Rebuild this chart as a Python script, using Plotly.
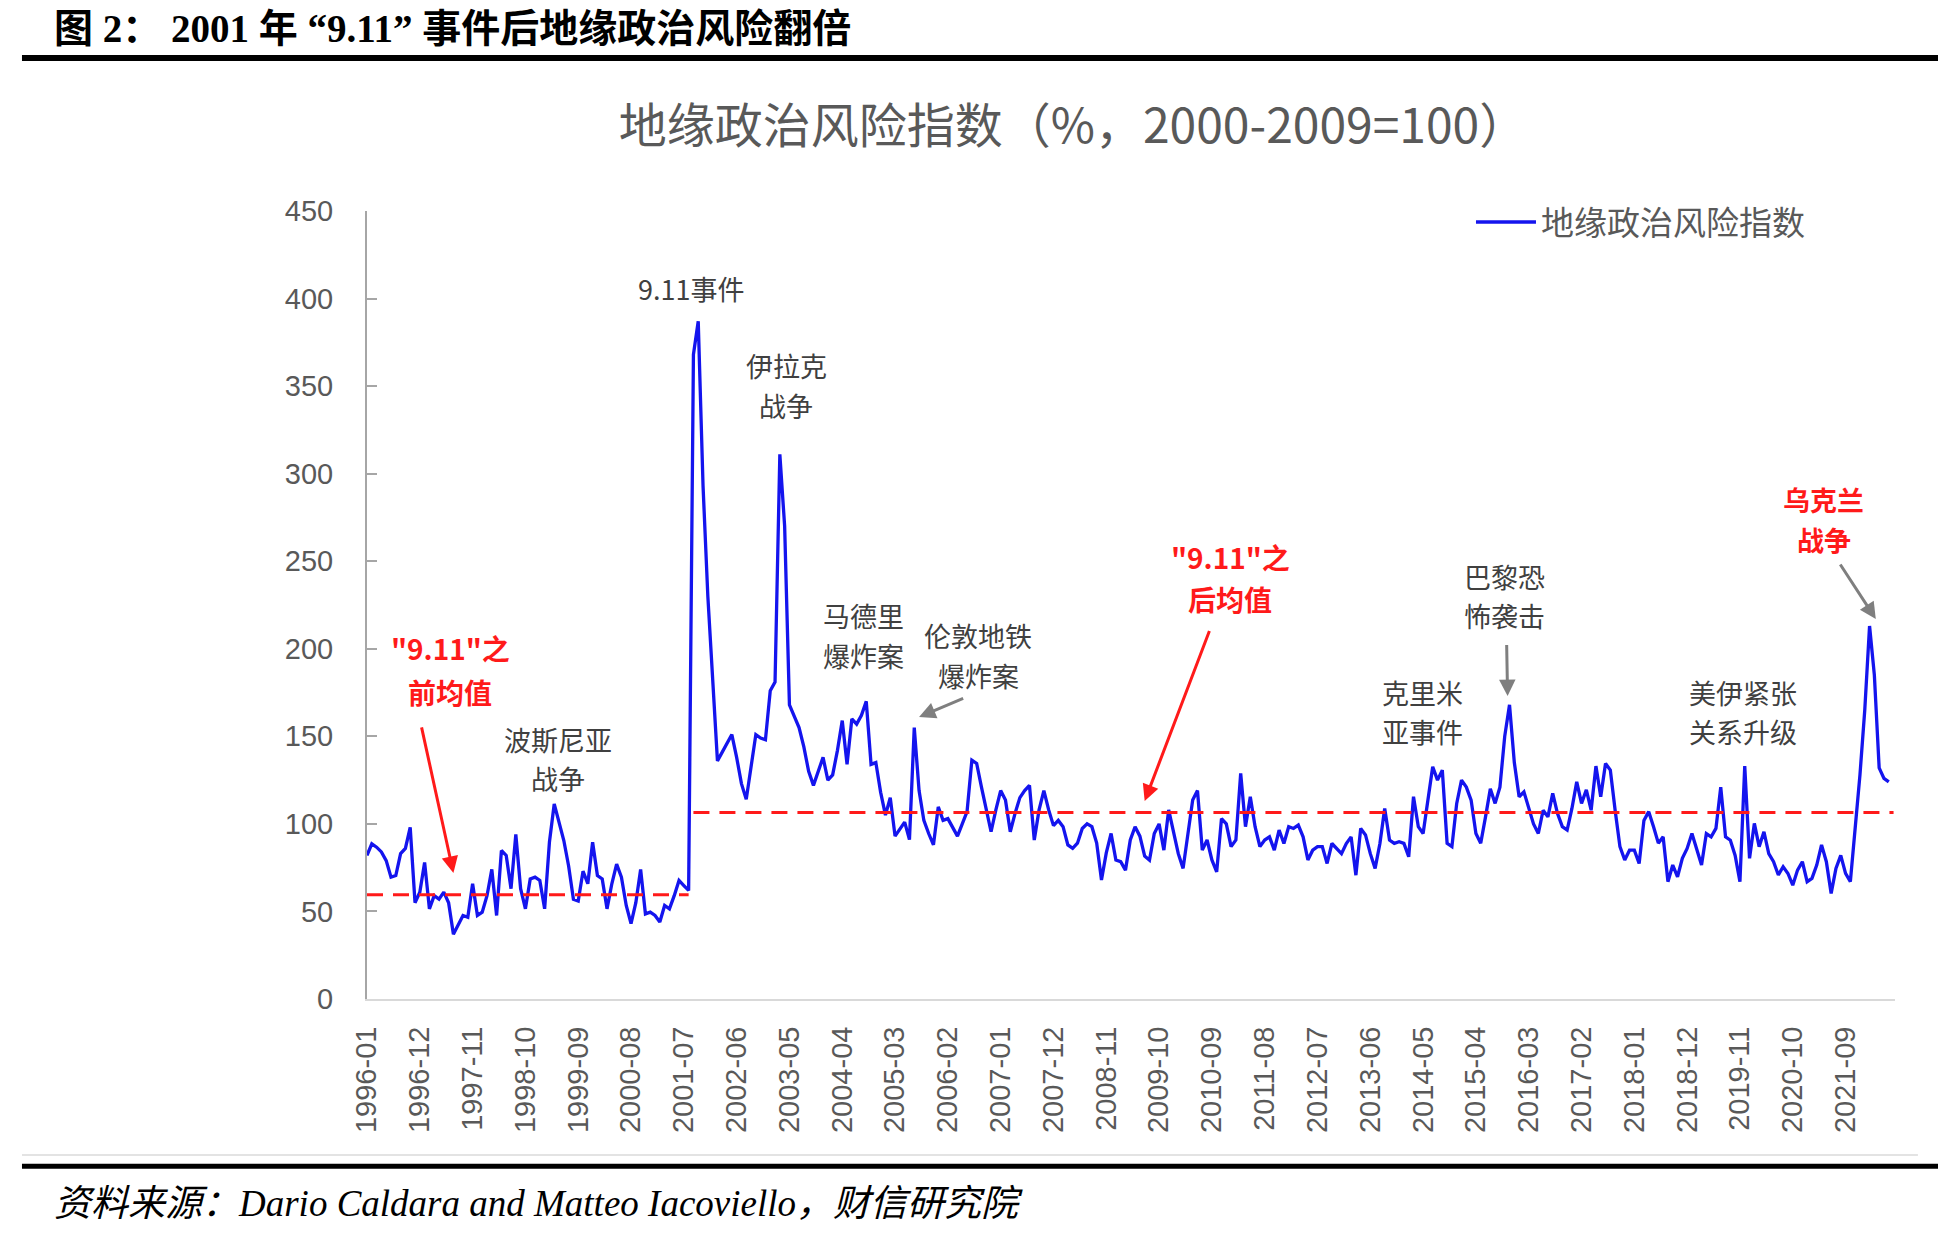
import plotly.graph_objects as go

# ---------------- data ----------------
months = [f"{y}-{m:02d}" for y in range(1996, 2023) for m in range(1, 13)][:318]

gpr = [
    # 1996-01 .. 2001-08
    82, 88.6, 86.7, 84, 79, 69.6, 70.5, 83, 86, 98,
    55, 61, 78, 51.5, 59, 57, 61, 55, 37, 42,
    47.7, 46.7, 65.8, 47.7, 49.6, 59, 74, 47.7, 84.8, 82,
    63, 94, 63, 51.5, 68.6, 69.6, 67.7, 51.5, 89.5, 111.4,
    101, 90.5, 76, 57, 56, 73, 65.8, 89.5, 70.5, 68.6,
    51.5, 65.8, 77, 69.6, 53.4, 43, 55, 74, 48.6, 49.6,
    47.7, 44, 53.4, 51.5, 59, 67.7, 64.8, 62,
    # 2001-09 .. 2005-07
    368, 387, 293, 230, 183, 136, 141, 146, 151, 138,
    123, 114, 134, 151, 149, 148, 176, 181, 311, 270,
    168, 162, 155, 144, 130, 122, 130, 138, 125, 128,
    142, 159, 134, 160, 157, 162, 170, 134, 135, 118,
    105, 115, 93, 97, 101, 91, 155,
    # 2005-08 .. 2009-07
    119, 102, 94.5, 88, 109.7, 102, 103, 98.4, 93, 100,
    107, 136.4, 134.5, 121, 108, 95.5, 108, 119, 113.6, 95.5,
    106, 115, 119, 122, 90.8, 108, 119, 108, 99, 102,
    98.4, 88, 86, 89, 97.4, 100, 98.4, 89, 68, 83.4,
    94.5, 79.4, 78.4, 73.6, 90.8, 98.4, 93, 81.6,
    # 2009-08 .. 2013-10
    79.3, 94.5, 100, 85, 108, 96.5, 83, 74.6, 94.5, 113.6,
    119, 85, 90.8, 79.4, 72.6, 103, 100, 87, 90.8, 128.8,
    98.4, 115.5, 98.4, 87, 90.8, 92.6, 85, 96.5, 88.8, 98.4,
    97.4, 99.3, 92.6, 79.4, 85, 87, 87, 77.4, 88.8, 86,
    83, 88.8, 92.6, 70.7, 97.4, 93.7, 83, 74.6, 88.8, 108.8,
    90.8,
    # 2013-11 .. 2018-03
    88.9, 89.8, 88.9, 81.2, 115.5, 98.4, 94.5, 113.6, 132.6, 125,
    130.7, 88.9, 87, 111.7, 125, 121, 113.6, 94.5, 88.9, 104,
    120, 111.7, 121, 150, 168, 135, 115.5, 118.3, 109.7, 100,
    94.5, 107.8, 104, 117.4, 105.9, 98.4, 96.5, 108.8, 124, 111.7,
    119.4, 107.8, 133, 115.5, 134.5, 130.7, 107.8, 87, 79.4, 85,
    85, 77.4, 102,
    # 2018-04 .. 2022-06
    107, 98.4, 89, 92.6, 67, 76.5, 69.8, 80.3, 86, 94.5,
    86, 76.5, 94.5, 92.6, 97.4, 121, 92.6, 90.7, 82, 67,
    133, 80.3, 100.3, 87, 95.5, 83, 78.4, 70.8, 75.5, 71.7,
    65, 73.6, 78.4, 67, 68.9, 76.5, 88, 78.4, 60.3, 74.6,
    82, 71.7, 67, 96, 128, 165, 213, 185, 132, 126,
    124,
]

pre_mean = 59.5      # "9.11"之前均值
post_mean = 106.5    # "9.11"之后均值
split_index = 68     # 2001-09

tick_step = 11
tick_labels = months[::tick_step]
y_ticks = [0, 50, 100, 150, 200, 250, 300, 350, 400, 450]

series_name = "地缘政治风险指数"

# ---------------- figure ----------------
idx = list(range(len(months)))
fig = go.Figure()

fig.add_trace(go.Scatter(
    x=idx, y=gpr, mode="lines", name=series_name,
    line=dict(color="#1414ee", width=3.3),
))
fig.add_trace(go.Scatter(
    x=[idx[0], idx[split_index - 1]], y=[pre_mean, pre_mean], mode="lines",
    line=dict(color="#ff1a1a", width=3, dash="16px,10px"), showlegend=False,
))
fig.add_trace(go.Scatter(
    x=[idx[split_index], idx[-1] + 1], y=[post_mean, post_mean], mode="lines",
    line=dict(color="#ff1a1a", width=3, dash="16px,10px"), showlegend=False,
))

CJK = "Noto Sans CJK SC, Noto Sans, sans-serif"
LAT = "Liberation Sans, Arial, Noto Sans CJK SC, sans-serif"
GRAY_TXT = "#404040"
RED = "#ff1a1a"

anns = []

def txt(x, y, text, color=GRAY_TXT, size=27, bold=False):
    if bold:
        text = "<b>" + text + "</b>"
    anns.append(dict(x=x, y=y, xref="x", yref="y", text=text, showarrow=False,
                     font=dict(family=CJK, size=size, color=color),
                     align="center", xanchor="center", yanchor="middle"))

def arrow(x, y, ax, ay, color):
    anns.append(dict(x=x, y=y, ax=ax, ay=ay, xref="x", yref="y", axref="x", ayref="y",
                     text="", showarrow=True, arrowhead=2, arrowsize=1.1,
                     arrowwidth=3, arrowcolor=color))

txt(67.5, 406, "9.11事件")
txt(87.3, 362, "伊拉克")
txt(87.3, 339, "战争")
txt(103.5, 219, "马德里")
txt(103.5, 196, "爆炸案")
txt(127.3, 207.5, "伦敦地铁")
txt(127.3, 185, "爆炸案")
txt(39.8, 148, "波斯尼亚")
txt(39.8, 126, "战争")
txt(17.3, 200.5, "\"9.11\"之", color=RED, size=28, bold=True)
txt(17.3, 175.5, "前均值", color=RED, size=28, bold=True)
txt(179.8, 252.5, "\"9.11\"之", color=RED, size=28, bold=True)
txt(179.8, 228.5, "后均值", color=RED, size=28, bold=True)
txt(237, 241.5, "巴黎恐")
txt(237, 219, "怖袭击")
txt(219.8, 175, "克里米")
txt(219.8, 152.5, "亚事件")
txt(286.7, 175, "美伊紧张")
txt(286.7, 152.5, "关系升级")
txt(303.5, 285, "乌克兰", color=RED, size=27, bold=True)
txt(303.5, 262.5, "战争", color=RED, size=27, bold=True)

arrow(18.0, 72, 11.3, 156, RED)
arrow(162, 113, 175.6, 211, RED)
arrow(115, 161, 124.5, 172, "#7f7f7f")
arrow(237.6, 173, 237.4, 203, "#7f7f7f")
arrow(314.3, 217, 306.7, 249, "#7f7f7f")

# page-level texts
anns.append(dict(xref="paper", yref="paper", x=-0.2061, y=1.2322, xanchor="left", yanchor="middle",
                 text="<b>图 2：\u00a02001 年 “9.11”\u00a0事件后地缘政治风险翻倍</b>", showarrow=False,
                 font=dict(family="Liberation Serif, Noto Sans CJK SC, serif", size=39, color="#000000")))
anns.append(dict(xref="paper", yref="paper", x=-0.2061, y=-0.2589, xanchor="left", yanchor="middle",
                 text="<i>资料来源：Dario Caldara and Matteo Iacoviello，财信研究院</i>", showarrow=False,
                 font=dict(family="Liberation Serif, Noto Sans CJK SC, serif", size=37, color="#000000")))

fig.update_layout(
    width=1938, height=1236,
    margin=dict(l=367, r=43, t=211, b=237),
    paper_bgcolor="white", plot_bgcolor="white",
    title=dict(text="地缘政治风险指数（%，2000-2009=100）", x=1073 / 1938, xanchor="center",
               y=1 - 126 / 1236, yanchor="middle",
               font=dict(family=CJK, size=48, color="#595959")),
    showlegend=True,
    legend=dict(x=0.7225, y=0.986, xanchor="left", yanchor="middle", bgcolor="rgba(0,0,0,0)",
                font=dict(family=CJK, size=33, color="#595959"), itemwidth=60),
    annotations=anns,
    shapes=[
        dict(type="line", xref="paper", yref="paper", x0=-0.2258, x1=1.03, y0=1.1942, y1=1.1942,
             line=dict(color="#000000", width=6)),
        dict(type="line", xref="paper", yref="paper", x0=-0.2258, x1=1.03, y0=-0.2122, y1=-0.2122,
             line=dict(color="#000000", width=5)),
        dict(type="line", xref="paper", yref="paper", x0=-0.2258, x1=1.015, y0=-0.198, y1=-0.198,
             line=dict(color="#e3e3e3", width=2)),
    ],
)

fig.update_xaxes(
    range=[0, 318.3], tickmode="array", tickvals=idx[::tick_step], ticktext=tick_labels,
    tickangle=-90, showgrid=False, zeroline=False, showline=True, linecolor="#d9d9d9", linewidth=2,
    ticks="", ticklabelstandoff=14,
    tickfont=dict(family=LAT, size=29, color="#595959"),
)
fig.update_yaxes(
    range=[0, 450], tickmode="array", tickvals=y_ticks, showgrid=False, zeroline=False,
    showline=True, linecolor="#a6a6a6", linewidth=2, ticks="inside", ticklen=10, tickcolor="#a6a6a6",
    tickwidth=2, ticklabelstandoff=26,
    tickfont=dict(family=LAT, size=29, color="#595959"),
)

fig.write_html("out.html", config={"displayModeBar": False},
               post_script="document.body.style.margin='0';")
